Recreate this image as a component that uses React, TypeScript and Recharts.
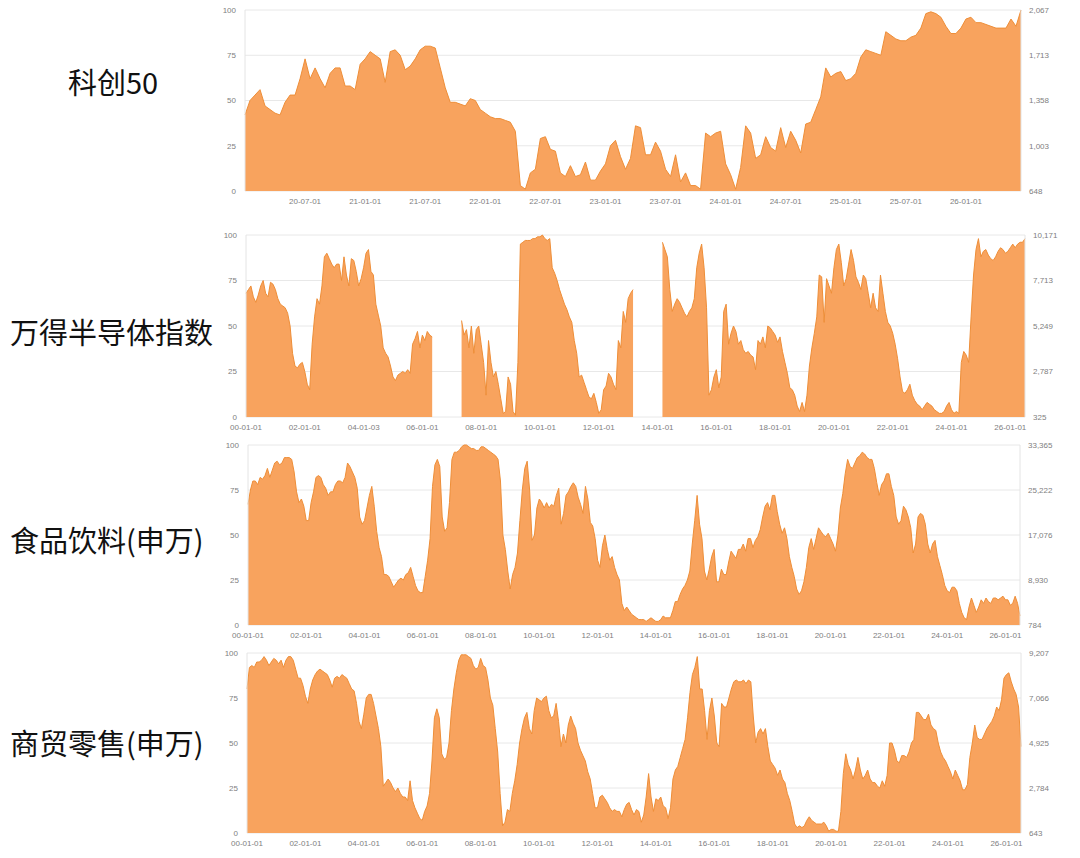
import React from 'react'
import { AreaChart, Area, XAxis, YAxis, CartesianGrid } from 'recharts'

// percentile values (0-100)
// 科创50: two points a month from 2020-01
const kcValues = [
  42, 50, 53, 56, 47, 45, 43, 42, 49, 53, 53, 62,
  73, 62, 68, 62, 57, 65, 68, 68, 58, 58, 56, 70,
  73, 77, 75, 73, 60, 77, 78, 75, 67, 69, 73, 78,
  80, 80, 79, 68, 57, 49, 49, 48, 47, 51, 50, 45,
  43, 41, 40, 40, 39, 38, 33, 3, 1, 10, 12, 29,
  30, 23, 22, 10, 8, 14, 8, 9, 16, 6, 6, 11,
  15, 25, 28, 19, 12, 18, 36, 35, 20, 20, 27, 22,
  12, 8, 20, 5, 10, 3, 3, 1, 32, 30, 32, 33,
  15, 9, 1, 13, 36, 32, 18, 20, 30, 24, 22, 35,
  24, 33, 28, 21, 37, 38, 45, 52, 68, 63, 65, 66,
  61, 62, 65, 74, 78, 77, 76, 75, 88, 86, 84, 83,
  83, 85, 86, 90, 98, 99, 98, 96, 91, 87, 87, 90,
  95, 96, 93, 93, 92, 91, 90, 90, 90, 95, 91, 100
]
const kcXLabels = ['20-07-01', '21-01-01', '21-07-01', '22-01-01', '22-07-01', '23-01-01', '23-07-01', '24-01-01', '24-07-01', '25-01-01', '25-07-01', '26-01-01']
const kcRightLabels = ['648', '1,003', '1,358', '1,713', '2,067']

// the other three: one point a month from 2000-01
const semiValues = [
  68, 70, 72, 66, 63, 67, 72, 75, 68, 66, 74, 73,
  70, 65, 62, 61, 60, 57, 50, 35, 28, 27, 29, 30,
  25, 18, 15, 40, 55, 65, 62, 72, 88, 90, 87, 84,
  82, 84, 84, 75, 88, 78, 72, 87, 86, 80, 72, 76,
  82, 90, 92, 80, 78, 62, 56, 50, 38, 35, 33, 28,
  22, 20, 23, 24, 25, 24, 26, 24, 40, 43, 47, 38,
  45, 42, 47, 45, 44, null, null, null, null, null, null, null,
  null, null, null, null, 53, 45, 48, 38, 50, 35, 48, 50,
  40, 30, 12, 42, 30, 22, 25, 18, 10, 2, 3, 22,
  18, 3, 1, 30, 95, 96, 97, 97, 97, 98, 98, 99,
  99, 100, 98, 97, 98, 82, 79, 75, 70, 66, 62, 59,
  55, 52, 42, 35, 22, 23, 19, 15, 11, 10, 13, 8,
  2, 4, 15, 17, 24, 22, 18, 15, 42, 38, 58, 52,
  65, 68, 70, null, null, null, null, null, null, null, null, null,
  null, null, 96, 92, 88, 70, 58, 62, 65, 63, 60, 57,
  55, 58, 60, 65, 82, 90, 95, 82, 60, 12, 15, 22,
  26, 16, 22, 58, 62, 40, 46, 50, 47, 40, 42, 37,
  35, 36, 34, 33, 26, 42, 40, 44, 38, 50, 49, 47,
  45, 41, 44, 36, 30, 24, 16, 15, 12, 6, 3, 8,
  3, 12, 28, 38, 46, 55, 78, 77, 52, 76, 72, 68,
  82, 92, 95, 85, 72, 76, 84, 92, 86, 77, 74, 70,
  78, 76, 68, 60, 68, 60, 58, 78, 68, 58, 52, 50,
  46, 40, 32, 22, 14, 13, 15, 18, 12, 9, 7, 6,
  4, 6, 8, 7, 6, 4, 3, 2, 2, 3, 6, 8,
  4, 2, 3, 2, 30, 36, 34, 30, 55, 78, 92, 98,
  88, 91, 92, 89, 87, 86, 88, 91, 93, 92, 90, 91,
  93, 95, 93, 95, 96, 96, 98
]
const semiXLabels = ['00-01-01', '02-01-01', '04-01-03', '06-01-01', '08-01-01', '10-01-01', '12-01-01', '14-01-01', '16-01-01', '18-01-01', '20-01-01', '22-01-01', '24-01-01', '26-01-01']
const semiRightLabels = ['325', '2,787', '5,249', '7,713', '10,171']

const foodValues = [
  67, 75, 80, 80, 78, 82, 81, 83, 87, 82, 86, 90,
  91, 89, 90, 93, 93, 93, 92, 85, 74, 68, 70, 66,
  58, 58, 68, 74, 82, 83, 82, 78, 76, 72, 74, 74,
  78, 80, 80, 79, 82, 90, 88, 85, 82, 76, 60, 56,
  58, 65, 72, 77, 66, 52, 43, 38, 28, 28, 27, 24,
  21, 23, 25, 26, 25, 28, 29, 32, 27, 22, 19, 18,
  18, 27, 36, 48, 77, 89, 92, 88, 60, 52, 54, 68,
  92, 96, 96, 97, 99, 100, 100, 99, 98, 98, 97, 97,
  99, 99, 98, 97, 96, 95, 94, 92, 80, 50, 42, 30,
  20, 28, 32, 40, 58, 75, 87, 91, 75, 47, 50, 65,
  70, 68, 65, 68, 65, 67, 66, 72, 76, 56, 62, 72,
  74, 77, 79, 77, 71, 67, 62, 77, 70, 57, 55, 48,
  36, 32, 44, 50, 42, 36, 38, 32, 28, 25, 12, 8,
  10, 8, 6, 5, 4, 3, 3, 3, 2, 3, 4, 3,
  2, 2, 3, 5, 4, 4, 4, 8, 13, 13, 17, 20,
  22, 25, 30, 45, 58, 72, 56, 48, 30, 25, 31, 38,
  42, 24, 24, 31, 28, 28, 35, 41, 39, 37, 42, 42,
  45, 41, 48, 48, 43, 47, 49, 53, 60, 66, 68, 64,
  72, 72, 63, 56, 51, 54, 48, 38, 32, 27, 20, 17,
  19, 24, 32, 43, 48, 42, 48, 54, 52, 50, 49, 51,
  48, 45, 41, 50, 65, 73, 84, 92, 88, 87, 90, 93,
  94, 96, 95, 93, 92, 92, 87, 79, 72, 78, 80, 84,
  84, 77, 72, 60, 56, 58, 66, 64, 60, 54, 40, 45,
  60, 62, 61, 56, 45, 40, 45, 47, 38, 33, 28, 22,
  19, 18, 21, 21, 19, 12, 7, 4, 3, 10, 15, 11,
  7, 10, 14, 12, 15, 13, 12, 15, 15, 14, 15, 16,
  14, 14, 11, 12, 16, 12, 5
]
const foodXLabels = ['00-01-01', '02-01-01', '04-01-01', '06-01-01', '08-01-01', '10-01-01', '12-01-01', '14-01-01', '16-01-01', '18-01-01', '20-01-01', '22-01-01', '24-01-01', '26-01-01']
const foodRightLabels = ['784', '8,930', '17,076', '25,222', '33,365']

const retailValues = [
  80, 92, 93, 92, 95, 95, 96, 98, 96, 93, 95, 97,
  96, 94, 96, 92, 96, 98, 98, 96, 91, 86, 86, 82,
  76, 72, 80, 85, 88, 90, 91, 90, 89, 88, 85, 81,
  86, 87, 86, 88, 87, 86, 83, 80, 79, 72, 62, 58,
  66, 75, 77, 77, 72, 65, 58, 48, 26, 28, 30, 28,
  25, 23, 25, 22, 20, 20, 18, 29, 18, 14, 11, 8,
  7, 12, 15, 22, 40, 64, 69, 64, 44, 41, 42, 50,
  68, 80, 89, 96, 99, 99, 99, 98, 97, 93, 91, 92,
  97, 93, 92, 85, 75, 71, 58, 45, 22, 4, 6, 13,
  12, 22, 29, 38, 50, 58, 64, 67, 58, 55, 68, 75,
  74, 73, 75, 76, 68, 64, 65, 72, 62, 48, 55, 50,
  60, 65, 61, 58, 50, 46, 43, 40, 34, 30, 22, 14,
  14, 20, 21, 19, 17, 14, 12, 13, 12, 12, 9, 13,
  16, 17, 13, 10, 13, 12, 6, 10, 20, 33, 20, 12,
  19, 18, 20, 15, 14, 8, 14, 30, 35, 37, 42, 47,
  52, 64, 78, 88, 92, 98, 80, 80, 68, 52, 68, 75,
  65, 50, 48, 72, 70, 70, 75, 80, 84, 85, 84, 84,
  85, 83, 85, 84, 65, 50, 56, 58, 55, 58, 48, 40,
  38, 36, 32, 35, 30, 28, 22, 18, 12, 5, 3, 4,
  3, 4, 7, 9, 7, 6, 5, 5, 5, 6, 4, 1,
  2, 2, 1, 1, 12, 33, 44, 38, 35, 30, 35, 42,
  35, 30, 32, 35, 30, 28, 28, 26, 25, 29, 26, 32,
  50, 50, 46, 40, 39, 43, 43, 42, 45, 50, 52, 67,
  67, 65, 63, 63, 66, 60, 58, 57, 50, 45, 42, 40,
  37, 34, 30, 35, 32, 29, 24, 24, 27, 42, 50, 60,
  53, 52, 52, 55, 58, 60, 62, 65, 70, 68, 74, 86,
  88, 89, 84, 80, 77, 70, 48
]
const retailXLabels = foodXLabels
const retailRightLabels = ['643', '2,784', '4,925', '7,066', '9,207']

const leftTicks = [0, 25, 50, 75, 100]

const FILL = '#F8A35E'
const STROKE = '#EE8E38'
const TICK_FONT = '"Liberation Sans", Arial, sans-serif'

// "yy-mm-dd" -> fractional year
function labelToYear(s: string) {
  const [yy, mm, dd] = s.split('-').map(Number)
  return 2000 + yy + (mm - 1) / 12 + (dd - 1) / 365
}

interface PanelProps {
  title: string
  titleLeft: number
  titleTop: number
  values: (number | null)[]
  start: number
  perYear: number
  xLabels: string[]
  rightLabels: string[]
  plotTop: number
  plotH: number
  plotLeft: number
  plotRight: number
}

function Panel({ title, titleLeft, titleTop, values, start, perYear, xLabels, rightLabels, plotTop, plotH, plotLeft, plotRight }: PanelProps) {
  const data = values.map((v, i) => ({ t: start + i / perYear, v }))
  const xTicks = xLabels.map(labelToYear)
  const last = data[data.length - 1].t
  const chartLeft = 200
  const width = 1080 - chartLeft
  const tickStyle = { fontSize: 8, fill: '#808080', fontFamily: TICK_FONT }

  const xFmt = (t: number) => {
    let best = 0
    xTicks.forEach((x, i) => {
      if (Math.abs(x - t) < Math.abs(xTicks[best] - t)) best = i
    })
    return xLabels[best]
  }

  return (
    <>
      <div
        style={{
          position: 'absolute',
          left: titleLeft,
          top: titleTop,
          fontFamily: '"Noto Sans CJK SC", sans-serif',
          fontSize: 29,
          lineHeight: '29px',
          color: '#111',
          whiteSpace: 'nowrap'
        }}
      >
        {title}
      </div>
      <div style={{ position: 'absolute', left: chartLeft, top: plotTop - 5 }}>
        <AreaChart width={width} height={plotH + 25} data={data} margin={{ top: 5, right: 0, bottom: 0, left: 0 }}>
          <CartesianGrid yAxisId="left" vertical={false} stroke="#e8e8e8" />
          <XAxis
            dataKey="t"
            type="number"
            domain={[start, last]}
            ticks={xTicks}
            tickFormatter={xFmt}
            interval={0}
            height={20}
            axisLine={false}
            tickLine={false}
            tickSize={5}
            tickMargin={2}
            tick={tickStyle}
          />
          <YAxis
            yAxisId="left"
            domain={[0, 100]}
            ticks={leftTicks}
            width={plotLeft - chartLeft}
            axisLine={{ stroke: '#e4e4e4' }}
            tickLine={false}
            tickSize={6}
            tickMargin={3}
            tick={tickStyle}
          />
          <YAxis
            yAxisId="right"
            orientation="right"
            domain={[0, 100]}
            allowDataOverflow
            ticks={leftTicks}
            tickFormatter={(v: number) => rightLabels[leftTicks.indexOf(v)]}
            width={1080 - plotRight}
            axisLine={{ stroke: '#e4e4e4' }}
            tickLine={false}
            tickSize={5}
            tickMargin={3}
            tick={{ ...tickStyle, textAnchor: 'start' }}
          />
          <Area
            yAxisId="left"
            type="linear"
            dataKey="v"
            stroke={STROKE}
            strokeWidth={1}
            fill={FILL}
            fillOpacity={1}
            dot={false}
            activeDot={false}
            isAnimationActive={false}
          />
        </AreaChart>
      </div>
    </>
  )
}

export default function App() {
  return (
    <div style={{ position: 'absolute', left: 0, top: 0, width: 1080, height: 858, background: '#fff', overflow: 'hidden' }}>
      <Panel
        title="科创50"
        titleLeft={68}
        titleTop={67}
        values={kcValues}
        start={2020}
        perYear={24}
        xLabels={kcXLabels}
        rightLabels={kcRightLabels}
        plotTop={10}
        plotH={181}
        plotLeft={245}
        plotRight={1021}
      />
      <Panel
        title="万得半导体指数"
        titleLeft={10}
        titleTop={317}
        values={semiValues}
        start={2000}
        perYear={12}
        xLabels={semiXLabels}
        rightLabels={semiRightLabels}
        plotTop={235}
        plotH={182}
        plotLeft={246}
        plotRight={1025}
      />
      <Panel
        title="食品饮料(申万)"
        titleLeft={10}
        titleTop={525}
        values={foodValues}
        start={2000}
        perYear={12}
        xLabels={foodXLabels}
        rightLabels={foodRightLabels}
        plotTop={445}
        plotH={180}
        plotLeft={248}
        plotRight={1020}
      />
      <Panel
        title="商贸零售(申万)"
        titleLeft={10}
        titleTop={728}
        values={retailValues}
        start={2000}
        perYear={12}
        xLabels={retailXLabels}
        rightLabels={retailRightLabels}
        plotTop={653}
        plotH={180}
        plotLeft={247}
        plotRight={1021}
      />
    </div>
  )
}
